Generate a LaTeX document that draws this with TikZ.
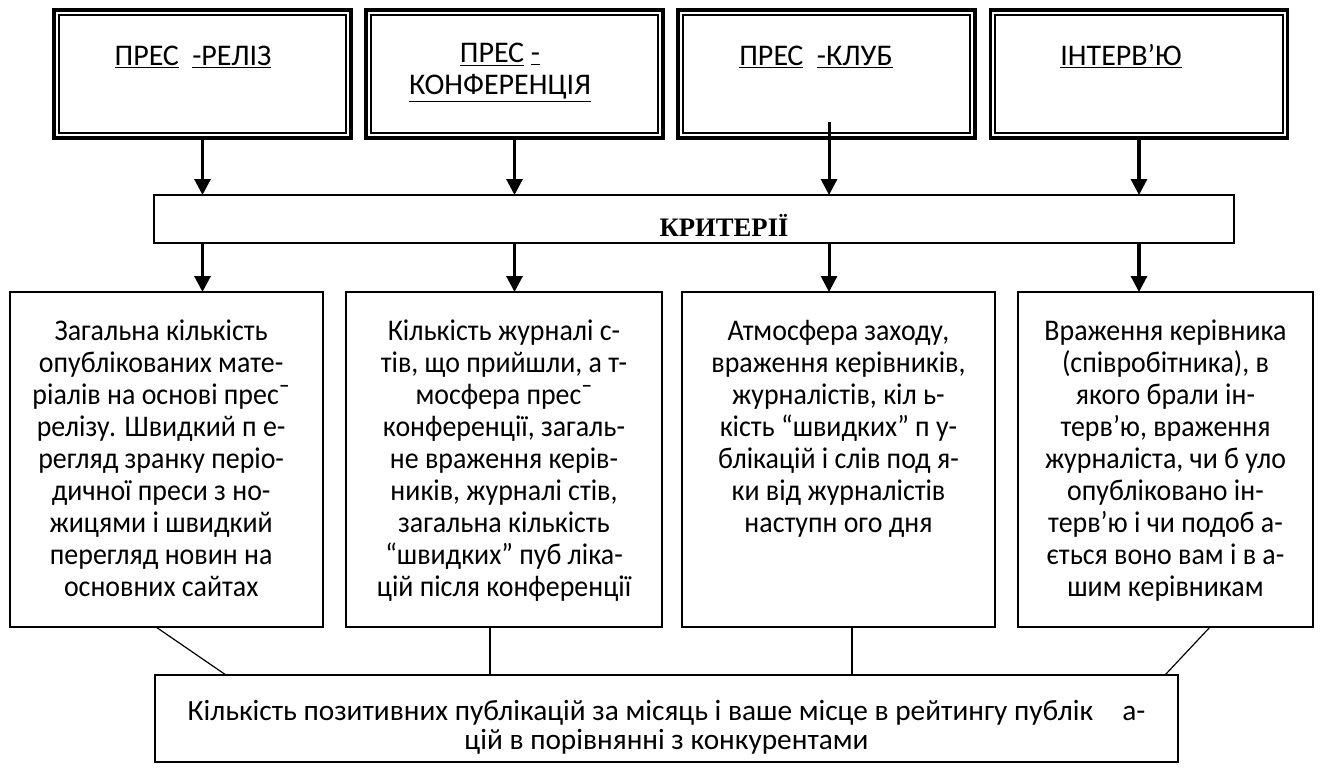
\documentclass[tikz,border=0pt]{standalone}
\usepackage{fontspec}
\setmainfont{Carlito}
\newfontfamily\narrowfont[FakeStretch=0.93]{Carlito}
\newfontfamily\critfont{Liberation Serif}
\usetikzlibrary{arrows.meta, positioning}
\tikzset{
    pressbox/.style={rectangle, draw, line width=2.4pt, minimum width=222.75pt, minimum height=96pt, inner sep=0pt, outer sep=0pt},
    presstext/.style={font=\fontsize{22.5pt}{24pt}\selectfont, align=center, anchor=north, inner sep=0pt, execute at begin node=\strut},
    critbar/.style={rectangle, draw, line width=1.1pt, minimum width=810pt, minimum height=36pt, inner sep=0pt, outer sep=0pt},
    crittitle/.style={font=\critfont\bfseries\fontsize{20pt}{22pt}\selectfont, anchor=base, inner sep=0pt},
    critbox/.style={rectangle, draw, line width=1.1pt, minimum height=251.25pt, inner sep=0pt, outer sep=0pt},
    crittext/.style={font=\narrowfont\fontsize{22.5pt}{24pt}\selectfont, align=center, inner sep=0pt, execute at begin node=\strut},
    totalbox/.style={rectangle, draw, line width=1.1pt, minimum width=767.25pt, minimum height=65.25pt, inner sep=0pt, outer sep=0pt},
    totaltext/.style={font=\fontsize{22pt}{22pt}\selectfont, align=center, inner sep=0pt},
    arrow/.style={line width=2.3pt, -{Triangle[width=12pt, length=12pt]}},
    link/.style={line width=0.9pt}
}

\begin{document}
\begin{tikzpicture}[x=0.75pt, y=-0.75pt]
    \useasboundingbox (0,0) rectangle (1321,772);

    % Forms of work with the press
    \node (reliz) [pressbox] at (202.5, 74) {};
    \node (konf) [pressbox] at (514.5, 74) {};
    \node (klub) [pressbox] at (826.5, 74) {};
    \node (interv) [pressbox] at (1139, 74) {};
    \foreach \n in {reliz, konf, klub, interv}
        \draw[line width=1.5pt] ([shift={(3.6pt,-3.6pt)}]\n.north west) rectangle ([shift={(-3.6pt,3.6pt)}]\n.south east);

    \node (reliz-t) [presstext] at (193, 43) {\underline{ПРЕС}\hspace{0.45em}\underline{-РЕЛІЗ}};
    \node (konf-t) [presstext] at (500, 43) {\underline{ПРЕС}~\underline{-}\\\underline{КОНФЕРЕНЦІЯ}};
    \node (klub-t) [presstext] at (816, 43) {\underline{ПРЕС}\hspace{0.45em}\underline{-КЛУБ}};
    \node (interv-t) [presstext] at (1121, 43) {\underline{ІНТЕРВ’Ю}};

    % Criteria
    \node (kryt) [critbar] at (694, 219) {};
    \node (kryt-t) [crittitle] at (724, 236) {КРИТЕРІЇ};

    % Criteria for each form
    \node (m-reliz) [critbox, minimum width=234.75pt] at (166.5, 459.5) {};
    \node (m-konf) [critbox, minimum width=237pt] at (504, 459.5) {};
    \node (m-klub) [critbox, minimum width=234.75pt] at (838.5, 459.5) {};
    \node (m-interv) [critbox, minimum width=221.25pt] at (1165.5, 459.5) {};

    \node (m-reliz-t) [crittext, below=21pt of m-reliz.north, xshift=-4pt] {Загальна кількість\\опублікованих мате-\\ріалів на основі прес¯\\релізу. Швидкий п е-\\регляд зранку періо-\\дичної преси з но-\\жицями і швидкий\\перегляд новин на\\основних сайтах};
    \node (m-konf-t) [crittext, below=21pt of m-konf.north] {Кількість журналі с-\\тів, що прийшли, а т-\\мосфера прес¯\\конференції, загаль-\\не враження керів-\\ників, журналі стів,\\загальна кількість\\“швидких” пуб ліка-\\цій після конференції};
    \node (m-klub-t) [crittext, below=21pt of m-klub.north] {Атмосфера заходу,\\враження керівників,\\журналістів, кіл ь-\\кість “швидких” п у-\\блікацій і слів под я-\\ки від журналістів\\наступн ого дня};
    \node (m-interv-t) [crittext, below=21pt of m-interv.north] {Враження керівника\\(співробітника), в\\якого брали ін-\\терв’ю, враження\\журналіста, чи б уло\\опубліковано ін-\\терв’ю і чи подоб а-\\ється воно вам і в а-\\шим керівникам};

    % Overall result
    \node (total) [totalbox] at (666.5, 718.5) {};
    \node (total-t) [totaltext] at (666.5, 727) {Кількість позитивних публікацій за місяць і ваше місце в рейтингу публік\hspace{1em}а-\\цій в порівнянні з конкурентами};

    % Arrows
    \draw[arrow] (reliz.south) -- (reliz.south |- kryt.north);
    \draw[arrow] (konf.south) -- (konf.south |- kryt.north);
    \draw[arrow] ([xshift=1.9pt, yshift=12pt]klub.south) -- ([xshift=1.9pt]klub.south |- kryt.north);
    \draw[arrow] (interv.south) -- (interv.south |- kryt.north);

    \draw[arrow] (reliz.south |- kryt.south) -- (reliz.south |- m-reliz.north);
    \draw[arrow] (konf.south |- kryt.south) -- (konf.south |- m-konf.north);
    \draw[arrow] ([xshift=1.9pt]klub.south |- kryt.south) -- ([xshift=1.9pt]klub.south |- m-klub.north);
    \draw[arrow] (interv.south |- kryt.south) -- (interv.south |- m-interv.north);

    % Links to the overall result
    \draw[link] ([xshift=-7.9pt]m-reliz.south) -- ([xshift=-330.4pt]total.north);
    \draw[link] ([xshift=-10.5pt]m-konf.south) -- ([xshift=-10.5pt]m-konf.south |- total.north);
    \draw[link] ([xshift=10.1pt]m-klub.south) -- ([xshift=10.1pt]m-klub.south |- total.north);
    \draw[link] ([xshift=33.4pt]m-interv.south) -- ([xshift=373.9pt]total.north);
\end{tikzpicture}
\end{document}
